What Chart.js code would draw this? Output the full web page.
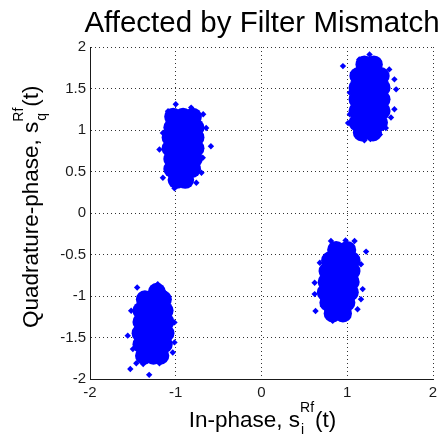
<!DOCTYPE html>
<html>
<head>
<meta charset="utf-8">
<script src="https://cdn.jsdelivr.net/npm/chart.js@4/dist/chart.umd.min.js"></script>
<style>
html,body{margin:0;padding:0;background:#fff;}
#wrap{width:443px;height:436px;}
</style>
</head>
<body>
<div id="wrap"><canvas id="c" width="443" height="436"></canvas></div>
<script>
// ---- data ----
const titleText = 'Affected by Filter Mismatch';
const xTickValues = [-2, -1, 0, 1, 2];
const xTickLabels = ['-2', '-1', '0', '1', '2'];
const yTickValues = [-2, -1.5, -1, -0.5, 0, 0.5, 1, 1.5, 2];
const yTickLabels = ['-2', '-1.5', '-1', '-0.5', '0', '0.5', '1', '1.5', '2'];

// dense interior of each symbol cloud (upper-right, upper-left, lower-right, lower-left)
const coreUR = [[1.20,1.79],[1.31,1.79],[1.13,1.65],[1.26,1.65],[1.39,1.65],[1.12,1.51],[1.26,1.51],[1.40,1.51],
  [1.12,1.37],[1.26,1.37],[1.40,1.37],[1.12,1.23],[1.26,1.23],[1.40,1.23],[1.12,1.09],[1.25,1.09],[1.37,1.09],
  [1.17,0.97],[1.30,0.97]];
const coreUL = [[-1.03,1.16],[-0.915,1.16],[-0.80,1.16],[-1.04,1.03],[-0.905,1.03],[-0.77,1.03],
  [-1.06,0.91],[-0.915,0.91],[-0.77,0.91],[-1.06,0.78],[-0.915,0.78],[-0.77,0.78],
  [-1.04,0.65],[-0.915,0.65],[-0.79,0.65],[-1.04,0.53],[-0.92,0.53],[-0.81,0.53],[-0.99,0.40],[-0.89,0.40]];
const coreLR = [[0.87,-0.445],[1.00,-0.445],[0.80,-0.57],[0.93,-0.57],[1.05,-0.57],[0.77,-0.70],[0.91,-0.70],[1.05,-0.70],
  [0.76,-0.83],[0.90,-0.83],[1.04,-0.83],[0.75,-0.955],[0.89,-0.955],[1.03,-0.955],
  [0.78,-1.08],[0.89,-1.08],[0.99,-1.08],[0.83,-1.21],[0.95,-1.21]];
const coreLL = [[-1.22,-0.95],[-1.36,-1.04],[-1.25,-1.04],[-1.15,-1.04],[-1.40,-1.176],[-1.265,-1.176],[-1.13,-1.176],
  [-1.40,-1.312],[-1.265,-1.312],[-1.12,-1.312],[-1.41,-1.448],[-1.265,-1.448],[-1.12,-1.448],
  [-1.40,-1.584],[-1.27,-1.584],[-1.14,-1.584],[-1.37,-1.72],[-1.26,-1.72],[-1.18,-1.72]];

// scattered samples on the rim of each cloud
const rimUR = [[0.95,1.77],[1.26,1.91],[1.14,1.85],[1.065,1.69],[1.49,1.73],[1.55,1.61],[1.57,1.49],[1.55,1.25],
  [1.51,1.15],[1.01,1.085],[1.45,1.025],[1.38,0.945],[1.20,0.877],[1.27,0.89],[1.03,1.19],[1.03,1.45]];
const rimUL = [[-1.00,1.31],[-0.82,1.27],[-0.68,1.19],[-0.645,1.025],[-0.59,0.805],[-0.685,0.665],[-0.70,0.485],
  [-1.19,0.765],[-1.15,0.965],[-1.15,0.425],[-1.015,0.297],[-0.88,0.365],[-1.09,1.226],[-0.76,0.365]];
const rimLR = [[0.81,-0.337],[0.98,-0.33],[1.085,-0.337],[1.22,-0.465],[0.68,-0.60],[1.16,-0.617],[0.62,-0.84],
  [1.18,-0.917],[0.62,-0.977],[0.63,-1.18],[1.16,-1.04],[0.83,-1.30],[1.01,-1.26],[1.12,-1.16],[0.715,-1.12]];
const rimLL = [[-1.45,-0.897],[-1.21,-0.857],[-1.13,-0.958],[-1.52,-1.178],[-1.56,-1.478],[-1.015,-1.318],
  [-1.015,-1.559],[-1.035,-1.68],[-1.53,-1.88],[-1.31,-1.95],[-1.46,-1.81],[-1.19,-1.81],[-1.50,-1.64],
  [-1.38,-1.82],[-1.09,-1.02]];

const toPts = arr => arr.map(p => ({x: p[0], y: p[1]}));
const BLUE = '#0000ff';
const FONT = "'Liberation Sans', Arial, sans-serif";

function fmtTick(values, labels) {
  return function (v) {
    for (let i = 0; i < values.length; i++) if (Math.abs(values[i] - v) < 1e-9) return labels[i];
    return '';
  };
}

const textLayer = {
  id: 'textLayer',
  afterDraw(chart) {
    const ctx = chart.ctx, a = chart.chartArea;
    // chart title
    ctx.save();
    ctx.font = '29.5px ' + FONT;
    ctx.fillStyle = '#000';
    ctx.textAlign = 'center';
    ctx.textBaseline = 'alphabetic';
    ctx.fillText(titleText, (a.left + a.right) / 2 + 0.5, a.top - 15.3);
    ctx.restore();

    const drawRich = (main1, sub, sup, main2) => {
      ctx.font = '22.5px ' + FONT;
      const w1 = ctx.measureText(main1).width;
      const w3 = ctx.measureText(main2).width;
      ctx.font = '14px ' + FONT;
      const w2 = Math.max(ctx.measureText(sub).width, ctx.measureText(sup).width);
      const total = w1 + w2 + 1 + w3;
      let x = -total / 2;
      ctx.textAlign = 'left';
      ctx.textBaseline = 'alphabetic';
      ctx.fillStyle = '#000';
      ctx.font = '22.5px ' + FONT;
      ctx.fillText(main1, x, 0);
      x += w1;
      ctx.font = '14px ' + FONT;
      ctx.fillText(sup, x, -15);
      ctx.fillText(sub, x + 1, 7.5);
      x += w2 + 1;
      ctx.font = '22.5px ' + FONT;
      ctx.fillText(main2, x, 0);
    };
    ctx.save();
    ctx.translate((a.left + a.right) / 2 + 1, a.bottom + 47.7);
    drawRich('In-phase, s', 'i', 'Rf', '(t)');
    ctx.restore();
    ctx.save();
    ctx.translate(a.left - 51.7, (a.top + a.bottom) / 2 - 6.3);
    ctx.rotate(-Math.PI / 2);
    drawRich('Quadrature-phase, s', 'q', 'Rf', '(t)');
    ctx.restore();
  }
};

new Chart(document.getElementById('c'), {
  type: 'scatter',
  data: {
    datasets: [
      {data: toPts(coreUR), pointRadius: 9, pointStyle: 'circle'},
      {data: toPts(coreUL), pointRadius: 9, pointStyle: 'circle'},
      {data: toPts(coreLR), pointRadius: 9, pointStyle: 'circle'},
      {data: toPts(coreLL), pointRadius: 9, pointStyle: 'circle'},
      {data: toPts(rimUR), pointRadius: 3.2, pointStyle: 'rectRot'},
      {data: toPts(rimUL), pointRadius: 3.2, pointStyle: 'rectRot'},
      {data: toPts(rimLR), pointRadius: 3.2, pointStyle: 'rectRot'},
      {data: toPts(rimLL), pointRadius: 3.2, pointStyle: 'rectRot'}
    ].map(d => Object.assign(d, {backgroundColor: BLUE, borderColor: BLUE, borderWidth: 0, pointHoverRadius: d.pointRadius}))
  },
  options: {
    responsive: false,
    animation: false,
    events: [],
    layout: {padding: {top: 47, right: 10, left: 0, bottom: 0}},
    plugins: {
      legend: {display: false},
      tooltip: {enabled: false},
      title: {display: false}
    },
    scales: {
      x: {
        type: 'linear', min: -2, max: 2,
        afterBuildTicks: s => { s.ticks = xTickValues.map(v => ({value: v})); },
        afterFit: s => { s.height = 57; },
        ticks: {callback: fmtTick(xTickValues, xTickLabels), color: '#1a1a1a', font: {family: FONT, size: 15}, padding: 5, maxRotation: 0},
        grid: {color: '#333', lineWidth: 1, drawTicks: false},
        border: {display: true, color: '#1a1a1a', width: 1, dash: [1, 3]}
      },
      y: {
        type: 'linear', min: -2, max: 2,
        afterBuildTicks: s => { s.ticks = yTickValues.map(v => ({value: v})); },
        afterFit: s => { s.width = 90; },
        ticks: {callback: fmtTick(yTickValues, yTickLabels), color: '#1a1a1a', font: {family: FONT, size: 15}, padding: 4},
        grid: {color: '#333', lineWidth: 1, drawTicks: false},
        border: {display: true, color: '#1a1a1a', width: 1, dash: [1, 3]}
      }
    }
  },
  plugins: [textLayer]
});
</script>
</body>
</html>
